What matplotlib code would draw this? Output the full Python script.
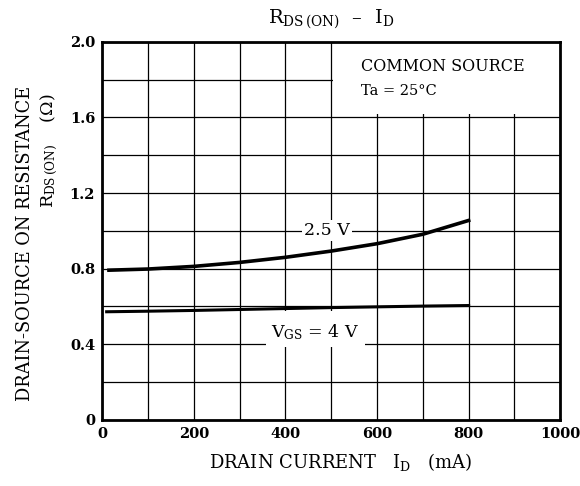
import matplotlib
matplotlib.use("Agg")
import matplotlib.pyplot as plt
from matplotlib.patches import Rectangle

plt.rcParams['font.family'] = ['DejaVu Serif']
plt.rcParams['mathtext.fontset'] = 'custom'
plt.rcParams['mathtext.rm'] = 'DejaVu Serif'
plt.rcParams['mathtext.it'] = 'DejaVu Serif'
plt.rcParams['mathtext.bf'] = 'DejaVu Serif:bold'

# drain current (mA) and on-resistance (ohm)
id_4v = [10, 100, 200, 300, 400, 500, 600, 700, 800]
r_4v = [0.572, 0.575, 0.579, 0.584, 0.589, 0.594, 0.598, 0.602, 0.605]

id_25v = [15, 100, 200, 300, 400, 500, 600, 700, 800]
r_25v = [0.792, 0.798, 0.812, 0.833, 0.860, 0.893, 0.932, 0.982, 1.055]

x_ticks = [0, 200, 400, 600, 800, 1000]
y_ticks = [0, 0.4, 0.8, 1.2, 1.6, 2.0]
y_tick_labels = ["0", "0.4", "0.8", "1.2", "1.6", "2.0"]

fig = plt.figure(figsize=(5.8, 4.86), dpi=100)
ax = fig.add_axes([0.176, 0.136, 0.79, 0.778])

ax.set_xlim(0, 1000)
ax.set_ylim(0, 2.0)
ax.set_xticks(x_ticks)
ax.set_xticks(range(100, 1000, 200), minor=True)
ax.set_yticks(y_ticks)
ax.set_yticklabels(y_tick_labels)
ax.set_yticks([0.2, 0.6, 1.0, 1.4, 1.8], minor=True)
ax.grid(True, which='both', color='black', linewidth=0.9, zorder=1)
ax.set_axisbelow(True)
ax.tick_params(which='both', length=0, labelsize=10.5, pad=5)
for lbl in ax.get_xticklabels() + ax.get_yticklabels():
    lbl.set_fontweight('bold')
for s in ax.spines.values():
    s.set_linewidth(2.0)
    s.set_zorder(5)

# white block behind the conditions text
ax.add_patch(Rectangle((503, 1.62), 497, 0.38, facecolor='white',
                       edgecolor='none', zorder=2))
ax.text(566, 1.87, "COMMON SOURCE", fontsize=11.5, va='center', zorder=3)
ax.text(566, 1.74, "Ta = 25°C", fontsize=10.5, va='center', zorder=3)

# white gap in the grid under the VGS label
ax.add_patch(Rectangle((358, 0.385), 215, 0.19, facecolor='white',
                       edgecolor='none', zorder=2))

ax.plot(id_25v, r_25v, color='black', linewidth=2.6, zorder=4)
ax.plot(id_4v, r_4v, color='black', linewidth=2.2, zorder=4)

ax.text(490, 1.0, "2.5 V", fontsize=12.5, ha='center', va='center', zorder=3,
        bbox=dict(facecolor='white', edgecolor='none', pad=1.5))
ax.text(465, 0.465, r"$\mathrm{V_{GS}}$ = 4 V", fontsize=12.5, ha='center',
        va='center', zorder=3)

fig.text(0.57, 0.96, r"$\mathrm{R_{DS\,(ON)}}$  –  $\mathrm{I_D}$", fontsize=14,
         ha='center', va='center')
fig.text(0.588, 0.049, r"DRAIN CURRENT   $\mathrm{I_D}$   (mA)", fontsize=13,
         ha='center', va='center')
fig.text(0.043, 0.50, "DRAIN-SOURCE ON RESISTANCE", fontsize=12.8,
         rotation=90, ha='center', va='center')
fig.text(0.085, 0.69, r"$\mathrm{R_{DS\,(ON)}}$    ($\Omega$)", fontsize=12.5,
         rotation=90, ha='center', va='center')

fig.savefig("out.png", dpi=100)
